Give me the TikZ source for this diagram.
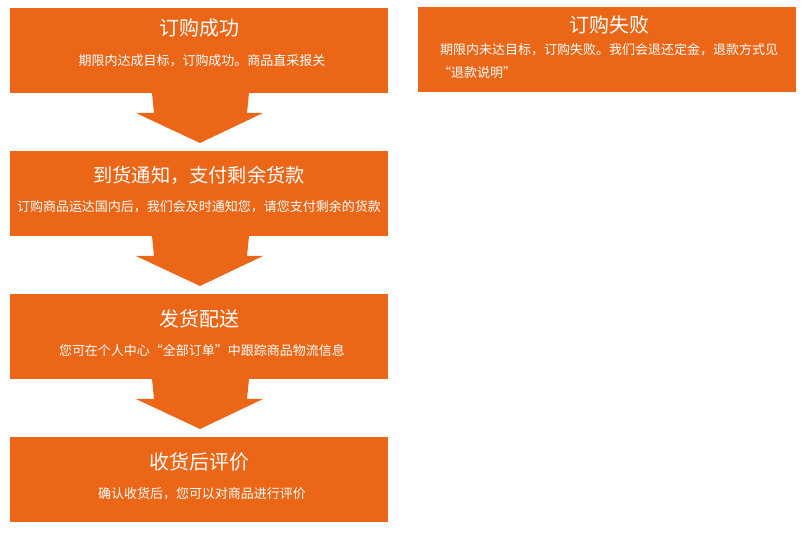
\documentclass[tikz,border=0pt]{standalone}
\usepackage{fontspec}
\setmainfont{Noto Sans CJK SC}
\usetikzlibrary{calc}
\definecolor{org}{RGB}{236,102,24}
\begin{document}
\begin{tikzpicture}[x=1pt,y=-1pt,
  box/.style={fill=org,draw=none,minimum width=378pt,minimum height=85pt,inner sep=0pt,outer sep=0pt},
  ttl/.style={text=white,inner sep=0pt,font=\fontsize{20}{24}\selectfont},
  sub/.style={text=white,inner sep=0pt,font=\fontsize{13}{16}\selectfont},
  arr/.style={fill=org,draw=none}]
\useasboundingbox (0,0) rectangle (804,534);
\node[box] (b1) at (199,50.5) {};
\node[box] (b2) at (199,193.5) {};
\node[box] (b3) at (199,336.5) {};
\node[box] (b4) at (199,480) {};
\node[box] (r1) at (607,49.5) {};
\node[ttl] (t1) at ($(b1.north)+(0,19.5)$) {订购成功};
\node[sub] (s1) at ($(b1.north)+(3,52.5)$) {期限内达成目标，订购成功。商品直采报关};
\node[ttl,font=\fontsize{19.2}{23}\selectfont] (t2) at ($(b2.north)+(0,24)$) {到货通知，支付剩余货款};
\node[sub] (s2) at ($(b2.north)+(0,56)$) {订购商品运达国内后，我们会及时通知您，请您支付剩余的货款};
\node[ttl] (t3) at ($(b3.north)+(0,24.5)$) {发货配送};
\node[sub] (s3) at ($(b3.north)+(3,56.5)$) {您可在个人中心“全部订单”中跟踪商品物流信息};
\node[ttl] (t4) at ($(b4.north)+(0,24)$) {收货后评价};
\node[sub] (s4) at ($(b4.north)+(3,56)$) {确认收货后，您可以对商品进行评价};
\node[ttl] (rt) at ($(r1.north)+(2,18)$) {订购失败};
\node[sub,anchor=west] (rs1) at (440,49.5) {期限内未达目标，订购失败。我们会退还定金，退款方式见};
\node[sub,anchor=west] (rs2) at (438,72.5) {“退款说明”};
\foreach \a in {b1,b2,b3}{
  \fill[arr,shift={(\a.south)}] (-47,0) -- (-45,20) -- (-63,20) -- (1,50) -- (64,20) -- (48,20) -- (50,0) -- cycle;
}
\end{tikzpicture}
\end{document}
